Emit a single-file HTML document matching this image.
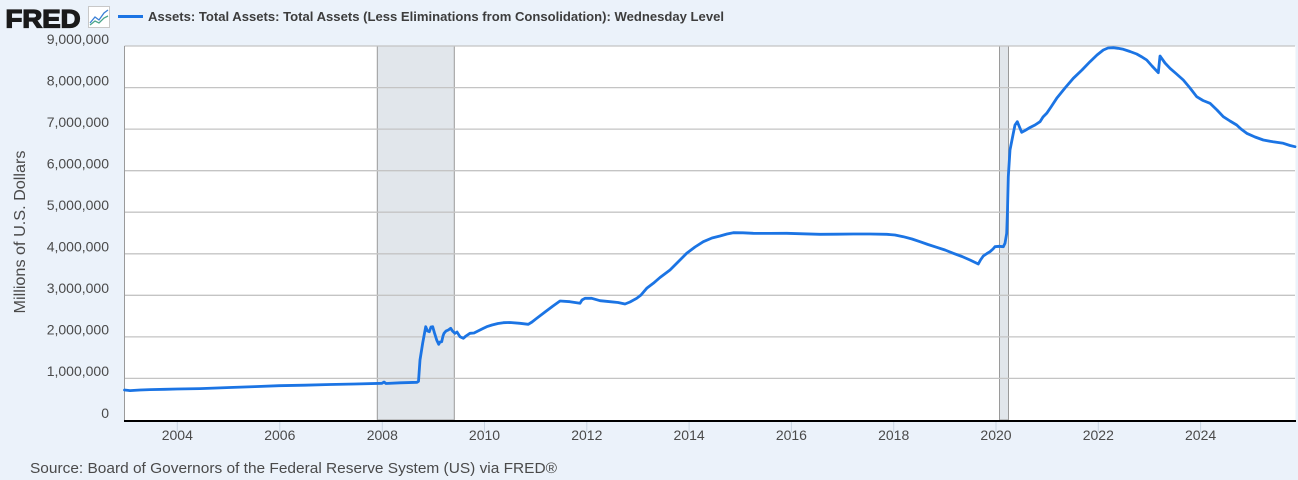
<!DOCTYPE html>
<html><head><meta charset="utf-8"><style>
html,body{margin:0;padding:0;background:#ebf2fa;}
svg{display:block;font-family:"Liberation Sans",Arial,sans-serif;}
</style></head><body>
<svg width="1298" height="480" viewBox="0 0 1298 480" xmlns="http://www.w3.org/2000/svg">
<rect x="0" y="0" width="1298" height="480" fill="#ebf2fa"/>
<!-- FRED logo -->
<text x="5.5" y="27.5" font-size="25" font-weight="bold" fill="#1a1a1a" stroke="#1a1a1a" stroke-width="1.3" textLength="75" lengthAdjust="spacingAndGlyphs">FRED</text>
<rect x="88.5" y="6.5" width="21" height="21" fill="#fff" stroke="#c8c8c8" stroke-width="1"/>
<polyline points="90,23 95,17 99,20 104,13 108,10" fill="none" stroke="#3a7fd6" stroke-width="1.3"/>
<polyline points="90,25 95,21 99,23 104,18 108,16" fill="none" stroke="#4aa58a" stroke-width="1.3"/>
<!-- legend -->
<line x1="118" y1="16.5" x2="143" y2="16.5" stroke="#1b74e4" stroke-width="3"/>
<text x="148" y="21" font-size="13" font-weight="bold" fill="#3d3d3d" textLength="576" lengthAdjust="spacingAndGlyphs">Assets: Total Assets: Total Assets (Less Eliminations from Consolidation): Wednesday Level</text>
<!-- plot background -->
<rect x="124.5" y="46" width="1171" height="374" fill="#fff"/>
<!-- recessions -->
<rect x="377.3" y="46" width="77" height="374" fill="#e1e6eb" stroke="#9a9a9a" stroke-width="1"/>
<rect x="999.5" y="46" width="9" height="374" fill="#e1e6eb" stroke="#9a9a9a" stroke-width="1"/>
<!-- gridlines -->
<g stroke="#c4c4c4" stroke-width="1.3">
<line x1="124.5" y1="46" x2="1295" y2="46"/>
<line x1="124.5" y1="87.6" x2="1295" y2="87.6"/>
<line x1="124.5" y1="129.1" x2="1295" y2="129.1"/>
<line x1="124.5" y1="170.7" x2="1295" y2="170.7"/>
<line x1="124.5" y1="212.2" x2="1295" y2="212.2"/>
<line x1="124.5" y1="253.8" x2="1295" y2="253.8"/>
<line x1="124.5" y1="295.3" x2="1295" y2="295.3"/>
<line x1="124.5" y1="336.9" x2="1295" y2="336.9"/>
<line x1="124.5" y1="378.4" x2="1295" y2="378.4"/>
</g>
<line x1="124.5" y1="46" x2="124.5" y2="420" stroke="#9a9a9a" stroke-width="1"/>
<!-- y tick labels -->
<g font-size="14" fill="#4a4a4a" text-anchor="end">
<text x="109" y="44">9,000,000</text>
<text x="109" y="85.5">8,000,000</text>
<text x="109" y="127">7,000,000</text>
<text x="109" y="168.5">6,000,000</text>
<text x="109" y="210">5,000,000</text>
<text x="109" y="251.5">4,000,000</text>
<text x="109" y="293">3,000,000</text>
<text x="109" y="334.5">2,000,000</text>
<text x="109" y="376">1,000,000</text>
<text x="109" y="418">0</text>
</g>
<text transform="translate(25,232) rotate(-90)" font-size="16" fill="#4a4a4a" text-anchor="middle" textLength="163" lengthAdjust="spacingAndGlyphs">Millions of U.S. Dollars</text>
<!-- x ticks -->
<g stroke="#c9d6e3" stroke-width="1">
<line x1="177.3" y1="422" x2="177.3" y2="432"/>
<line x1="279.8" y1="422" x2="279.8" y2="432"/>
<line x1="382.3" y1="422" x2="382.3" y2="432"/>
<line x1="484.5" y1="422" x2="484.5" y2="432"/>
<line x1="586.8" y1="422" x2="586.8" y2="432"/>
<line x1="689.1" y1="422" x2="689.1" y2="432"/>
<line x1="791.4" y1="422" x2="791.4" y2="432"/>
<line x1="893.7" y1="422" x2="893.7" y2="432"/>
<line x1="996" y1="422" x2="996" y2="432"/>
<line x1="1098.3" y1="422" x2="1098.3" y2="432"/>
<line x1="1200.6" y1="422" x2="1200.6" y2="432"/>
</g>
<g font-size="14" fill="#4a4a4a" text-anchor="middle">
<text x="177.3" y="440">2004</text>
<text x="279.8" y="440">2006</text>
<text x="382.3" y="440">2008</text>
<text x="484.5" y="440">2010</text>
<text x="586.8" y="440">2012</text>
<text x="689.1" y="440">2014</text>
<text x="791.4" y="440">2016</text>
<text x="893.7" y="440">2018</text>
<text x="996" y="440">2020</text>
<text x="1098.3" y="440">2022</text>
<text x="1200.6" y="440">2024</text>
</g>
<line x1="124" y1="421" x2="1296" y2="421" stroke="#000" stroke-width="2"/>
<!-- series -->
<polyline fill="none" stroke="#1b74e4" stroke-width="2.8" stroke-linejoin="round" stroke-linecap="round" points="
124.5,390 130,390.6 140,390 150,389.6 165,389.3 177,389 200,388.6 230,387.5 255,386.6 279,385.7 305,385.2 330,384.5 355,384 382,383.3 384,382 386,383.5 400,382.8 417,382.3 418.5,381.3
420,360 422.7,343 425.7,326.7 427.5,331 429.3,331.7 431,327 432.7,326.7 434.5,333 436.7,340 438.7,344.3 440,342 441.7,341.7 443,336 444,333.3 446,331 448.3,330 450.7,328.3 452.5,331 455,333.3 457,332 460,336.7 463.3,338.3 466,336 470,333.3 474,333 477,331.5 480,330 483,328.5 486.7,326.7 492,325 498,323.5 503.3,322.7 510,322.5 520,323.3 528.3,324.3 532,322 536.7,318.3 545,312 553,306 560,301 570,301.7 580,303.3 582,300 585,298.3 591.7,298.3 600,300.7 610,301.7 618,302.5 625,304 630,302 636.7,298.3 641,295 646.7,288.3 653.3,283.3 660,277.5 670,270 678,262 686.7,253.3 695,247 703.3,241.7 712,238 720,236 727,234 733.3,232.7 743,232.8 753.3,233.3 770,233.4 786.7,233.3 803,233.8 820,234.3 837,234.2 853.3,234 870,234 886.7,234.3 895,235 903.3,236.7 912,239 920,241.7 928,244.5 936.7,247.3 945,250 953.3,253.3 962,256.5 970,260 978.3,264 980.5,260 983.3,256 987,253.5 990,251.7 993,249 995,246.7 999,246.3 1003.3,246.7 1005,243.3 1006.7,233.3 1007.5,210 1008.3,176.7 1010,150 1013.3,133.3 1015,125 1017.3,121.7 1019.5,127 1021.7,132.3 1025,130.5 1030,127.5 1035,125 1040,121.7 1043,117 1046.7,113.3 1051,107 1056.7,98.3 1065,88 1073.3,78.3 1082,70 1090,61.7 1097,55 1103.3,50 1108,48 1113.3,47.7 1118,48.3 1123.3,49.3 1130,51.5 1136.7,54 1142,57 1146.7,60 1152,66 1158.3,72.7 1160,56 1165,63 1170,68.3 1176,73.5 1183.3,80 1190,88 1196.7,96.7 1203,100.5 1210,103.3 1217,110 1223.3,116.7 1230,121 1236.7,125 1241,129 1246.7,133.3 1255,137 1263.3,140 1273,141.8 1283.3,143.3 1290,145.5 1295,146.7"/>
<!-- source -->
<text x="30" y="473" font-size="15" fill="#4a4a4a" textLength="527" lengthAdjust="spacingAndGlyphs">Source: Board of Governors of the Federal Reserve System (US) via FRED®</text>
</svg>
</body></html>
